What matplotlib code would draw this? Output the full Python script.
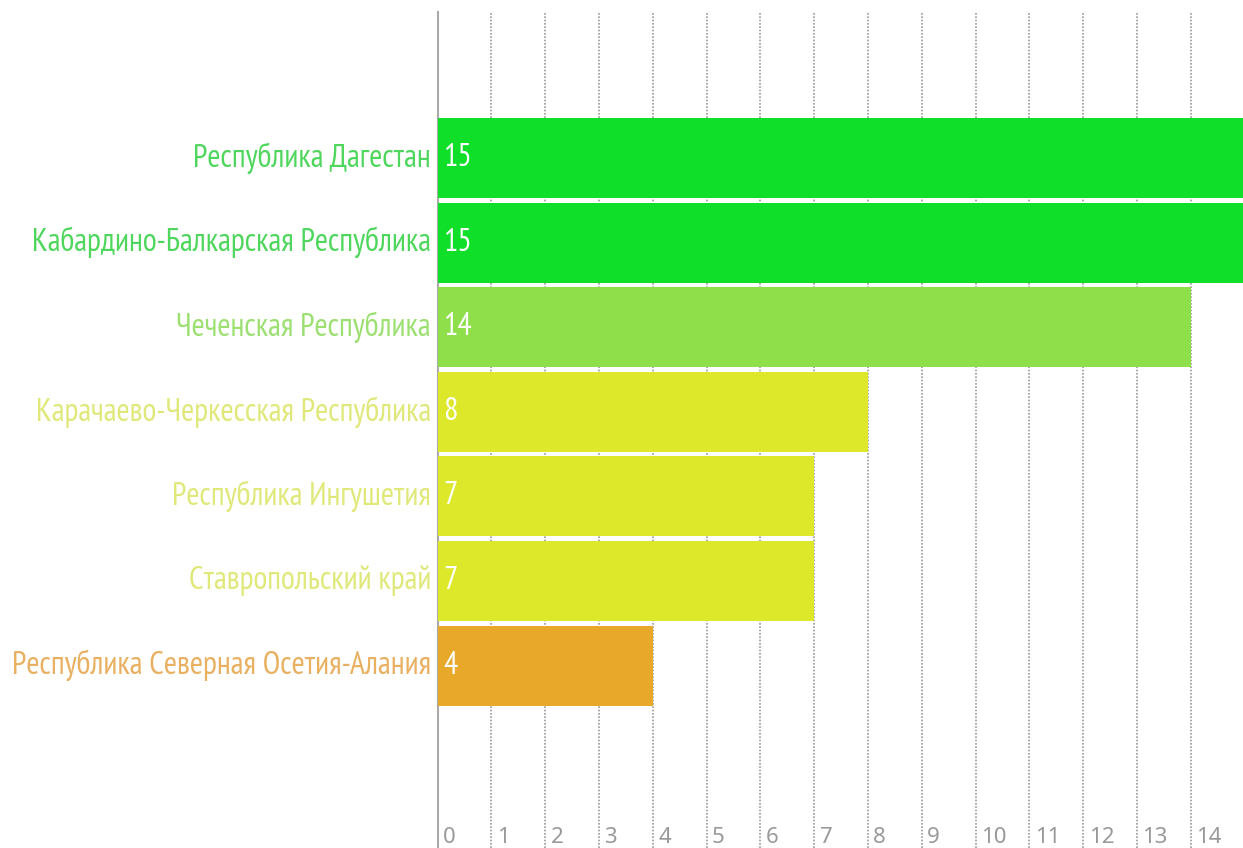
import matplotlib.pyplot as plt
from matplotlib import font_manager

regions = ['Республика Дагестан', 'Кабардино-Балкарская Республика', 'Чеченская Республика',
           'Карачаево-Черкесская Республика', 'Республика Ингушетия', 'Ставропольский край',
           'Республика Северная Осетия-Алания']
values = [15, 15, 14, 8, 7, 7, 4]
bar_colors = ['#10df2a', '#10df2a', '#8fdf4a', '#dde82a', '#dde82a', '#dde82a', '#e8a82a']
label_colors = ['#4fd65c', '#4fd65c', '#9be070', '#dfe878', '#dfe878', '#dfe878', '#e8b060']
ticks = list(range(0, 15))

# narrow font like the original, whichever is installed
names = {f.name for f in font_manager.fontManager.ttflist}
fam = 'DejaVu Sans'
for cand in ['PT Sans Narrow', 'Ubuntu Condensed', 'Roboto Condensed', 'Open Sans Condensed',
             'Fira Sans Condensed', 'Liberation Sans Narrow', 'Arimo']:
    if cand in names:
        fam = cand
        break
plt.rcParams['font.family'] = [fam, 'DejaVu Sans']

fig = plt.figure(figsize=(12.43, 8.48), dpi=100)
ax = fig.add_axes([437.5 / 1243, 0, 1 - 437.5 / 1243, 1 - 12 / 848])

y = list(range(len(regions)))
ax.barh(y, values, height=0.945, color=bar_colors, zorder=3)

for i, v in enumerate(values):
    ax.text(0.1, i, str(v), color='white', fontsize=23, va='center', ha='left', zorder=4)
    ax.text(-0.12, i, regions[i], color=label_colors[i], fontsize=23, va='center', ha='right',
            clip_on=False)

for t in ticks[1:]:
    ax.axvline(t, color='#999999', linestyle=(0, (1, 1)), linewidth=1.2, zorder=1)
for t in ticks:
    ax.text(t + 0.1, 0.006, str(t), color='#999999', fontsize=16, ha='left', va='baseline',
            transform=ax.get_xaxis_transform(), family=['Noto Sans', 'DejaVu Sans'])

ax.set_xlim(0, 14.97)
ax.set_ylim(8.156, -1.726)
ax.set_xticks([])
ax.set_yticks([])
for s in ['top', 'right', 'bottom']:
    ax.spines[s].set_visible(False)
ax.spines['left'].set_color('#aaaaaa')
ax.spines['left'].set_linewidth(1.5)

fig.savefig('out.png', dpi=100)
